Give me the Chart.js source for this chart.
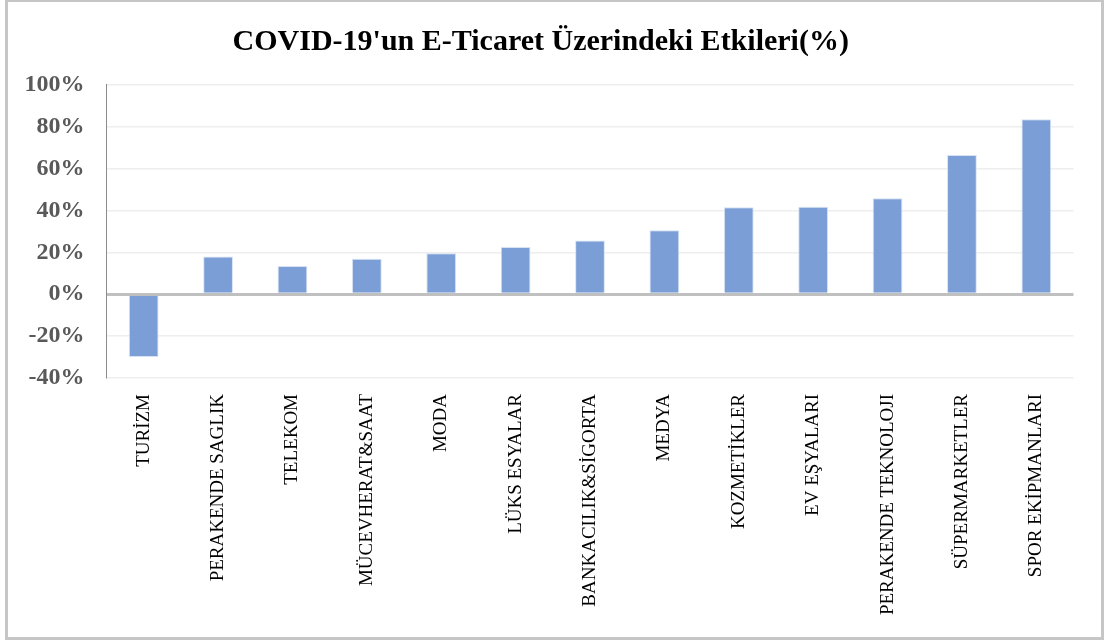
<!DOCTYPE html>
<html>
<head>
<meta charset="utf-8">
<script src="https://cdn.jsdelivr.net/npm/chart.js@4/dist/chart.umd.min.js"></script>
<style>
  body { margin: 0; background: #fff; }
  #box {
    position: absolute; left: 5px; top: -1px;
    width: 1099px; height: 641px;
    border: 3px solid #c6c6c6; box-sizing: border-box;
  }
</style>
</head>
<body>
<div id="box"><canvas id="chart" width="1093" height="635"></canvas></div>
<script>
// chart values
const categories = ['TURİZM', 'PERAKENDE SAGLIK', 'TELEKOM', 'MÜCEVHERAT&SAAT', 'MODA',
  'LÜKS ESYALAR', 'BANKACILIK&SİGORTA', 'MEDYA', 'KOZMETİKLER', 'EV EŞYALARI',
  'PERAKENDE TEKNOLOJI', 'SÜPERMARKETLER', 'SPOR EKİPMANLARI']
const impact = [-30, 18, 13.5, 17, 19.6, 22.6, 25.6, 30.5, 41.5, 41.8, 45.8, 66.5, 83.5]
const yTicks = { min: -40, max: 100, step: 20 }

const serif = '"Liberation Serif", "Times New Roman", serif'

new Chart(document.getElementById('chart'), {
  type: 'bar',
  data: {
    labels: categories,
    datasets: [{
      label: 'Etki',
      data: impact,
      backgroundColor: '#7b9ed6',
      borderColor: 'rgba(210,222,242,0.9)',
      borderWidth: 1,
      categoryPercentage: 1,
      barPercentage: 0.4
    }]
  },
  options: {
    responsive: false,
    animation: false,
    layout: { padding: { left: 0, right: 27.5, top: 0, bottom: 0 } },
    plugins: {
      legend: { display: false },
      tooltip: { enabled: false },
      title: {
        display: true,
        text: "COVID-19'un E-Ticaret Üzerindeki Etkileri(%)",
        color: '#000',
        font: { family: serif, size: 30, weight: 'bold', lineHeight: 1.2 },
        padding: { top: 22, bottom: 24.8 }
      }
    },
    scales: {
      x: {
        grid: { display: false, drawTicks: false },
        border: { display: false },
        ticks: {
          autoSkip: false,
          minRotation: 90,
          maxRotation: 90,
          padding: 16,
          color: '#000',
          font: { family: serif, size: 19 }
        },
        afterFit: s => { s.height = 259 }
      },
      y: {
        min: yTicks.min,
        max: yTicks.max,
        border: { display: true, color: '#8c8c8c', width: 1 },
        grid: {
          drawTicks: false,
          color: c => c.tick && c.tick.value === 0 ? '#c0c0c0' : '#eeeeee',
          lineWidth: c => c.tick && c.tick.value === 0 ? 3 : 1.5
        },
        ticks: {
          stepSize: yTicks.step,
          padding: 22,
          color: '#595959',
          font: { family: serif, size: 24, weight: 'bold' },
          callback: v => v + '%'
        },
        afterFit: s => { s.width = 98.5 }
      }
    }
  }
})
</script>
</body>
</html>
